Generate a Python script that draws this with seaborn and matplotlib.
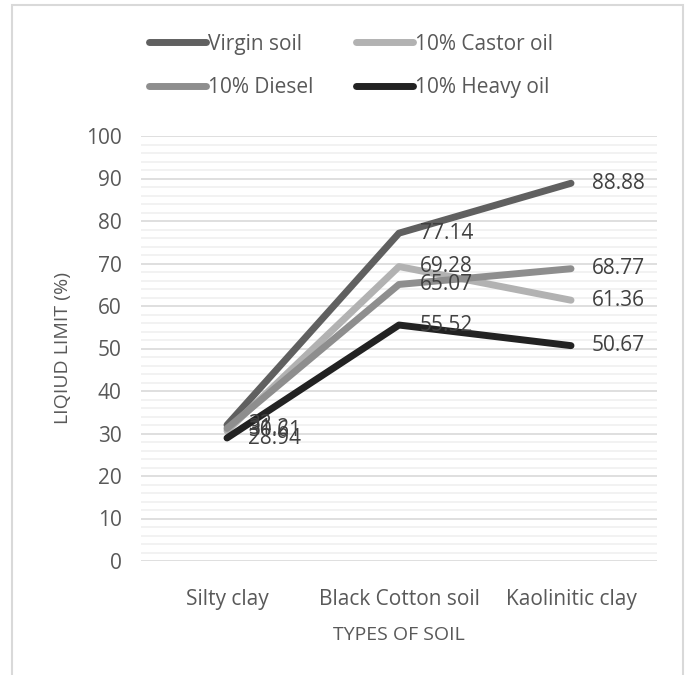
import matplotlib
matplotlib.use("Agg")
import matplotlib.pyplot as plt
import seaborn as sns
import pandas as pd
from matplotlib.patches import Rectangle
from matplotlib.ticker import MultipleLocator

soils = ["Silty clay", "Black Cotton soil", "Kaolinitic clay"]
virgin = [32.0, 77.14, 88.88]
castor = [30.61, 69.28, 61.36]
diesel = [31.2, 65.07, 68.77]
heavy = [28.94, 55.52, 50.67]
series_names = ["Virgin soil", "10% Castor oil", "10% Diesel", "10% Heavy oil"]
colors = ["#606060", "#b2b2b2", "#8e8e8e", "#222222"]

rows = []
for name, vals in zip(series_names, [virgin, castor, diesel, heavy]):
    for s, v in zip(soils, vals):
        rows.append({"soil": s, "value": v, "series": name})
df = pd.DataFrame(rows)

sns.set_theme(style="white")
plt.rcParams["font.family"] = ["Open Sans", "DejaVu Sans"]
txt = "#595959"

fig = plt.figure(figsize=(6.89, 6.75), dpi=100)
ax = fig.add_axes([141 / 689, 1 - 561 / 675, 516 / 689, 425 / 675])

sns.lineplot(data=df, x="soil", y="value", hue="series", hue_order=series_names,
             palette=colors, linewidth=5, solid_capstyle="round", ax=ax,
             sort=False, estimator=None)

ax.set_xlim(-0.5, 2.5)
ax.set_ylim(0, 100)
ax.yaxis.set_major_locator(MultipleLocator(10))
ax.yaxis.set_minor_locator(MultipleLocator(2))
ax.grid(which="major", axis="y", color="#d9d9d9", linewidth=1.2, zorder=0)
ax.grid(which="minor", axis="y", color="#f0f0f0", linewidth=1.2, zorder=0)
ax.set_axisbelow(True)
for sp in ax.spines.values():
    sp.set_visible(False)
ax.tick_params(axis="both", which="both", length=0, labelsize=15, colors=txt)
ax.tick_params(axis="x", pad=20)
ax.tick_params(axis="y", pad=14)

ax.set_xlabel("TYPES OF SOIL", fontsize=14, color=txt, labelpad=12)
ax.set_ylabel("LIQIUD LIMIT (%)", fontsize=14, color=txt, labelpad=10)

for name, vals in zip(series_names, [virgin, castor, diesel, heavy]):
    for i, v in enumerate(vals):
        ax.annotate(f"{v:g}", (i, v), xytext=(15, 0), textcoords="offset points",
                    ha="left", va="center", fontsize=15, color="#404040")

handles, labels = ax.get_legend_handles_labels()
order = [0, 2, 1, 3]
leg = ax.legend([handles[k] for k in order], [labels[k] for k in order],
                ncol=2, loc="center", bbox_to_anchor=(210 / 516, (561 - 66) / 425),
                frameon=False, fontsize=15, handlelength=2.75, handletextpad=0.1,
                columnspacing=2.0, labelspacing=1.1)
for t in leg.get_texts():
    t.set_color(txt)
for h in leg.get_lines():
    h.set_linewidth(5)
    h.set_solid_capstyle("round")

fig.patches.append(Rectangle((12 / 689, -0.05), (683 - 12) / 689, 1.05 - 5 / 675,
                             transform=fig.transFigure, fill=False,
                             edgecolor="#d9d9d9", linewidth=1.5))

fig.savefig("out.png", dpi=100)
